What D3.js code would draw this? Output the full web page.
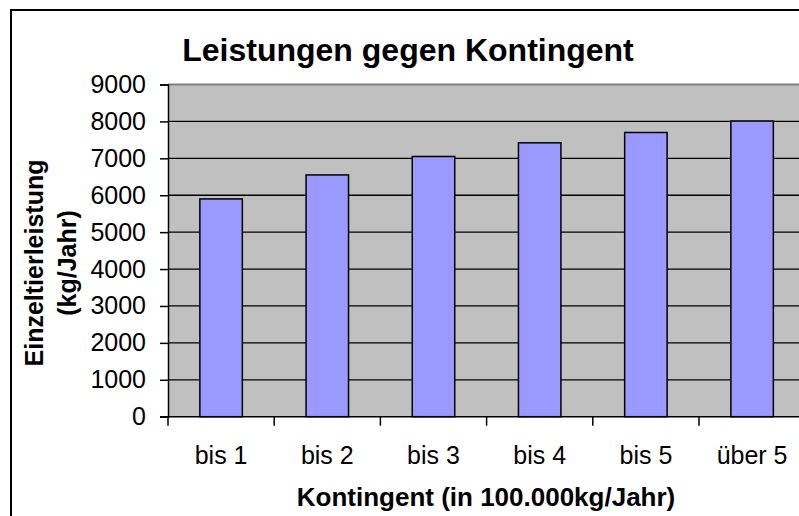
<!DOCTYPE html>
<html>
<head>
<meta charset="utf-8">
<script src="https://cdn.jsdelivr.net/npm/d3@7"></script>
<style>
  body { margin: 0; background: #fff; }
  svg { display: block; font-family: "Liberation Sans", Arial, sans-serif; }
</style>
</head>
<body>
<script>
// chart data
const categories = ["bis 1", "bis 2", "bis 3", "bis 4", "bis 5", "über 5"];
const leistung = [5900, 6550, 7050, 7420, 7700, 8010];
const yTicks = [0, 1000, 2000, 3000, 4000, 5000, 6000, 7000, 8000, 9000];

const W = 799, H = 516;
// plot area (runs off the right edge like the original)
const plot = { left: 168, top: 84.5, bottom: 416.7, right: 168 + 6 * 106.2 };

const svg = d3.select("body").append("svg")
    .attr("width", W)
    .attr("height", H);

// outer chart frame
svg.append("rect")
    .attr("x", 11).attr("y", 10)
    .attr("width", 840).attr("height", 540)
    .attr("fill", "#fff")
    .attr("stroke", "#000")
    .attr("stroke-width", 2);

// scales
const xSlot = d3.scaleBand()
    .domain(categories)
    .range([plot.left, plot.right])
    .padding(0);
const yScale = d3.scaleLinear()
    .domain([0, 9000])
    .range([plot.bottom, plot.top]);

const barW = xSlot.bandwidth() * 0.4;

// plot background
svg.append("rect")
    .attr("x", plot.left).attr("y", plot.top)
    .attr("width", plot.right - plot.left)
    .attr("height", plot.bottom - plot.top)
    .attr("fill", "#c0c0c0");

// gridlines
svg.append("g")
    .selectAll("line")
    .data(yTicks.filter(d => d > 0 && d < 9000))
    .join("line")
    .attr("x1", plot.left).attr("x2", plot.right)
    .attr("y1", d => yScale(d)).attr("y2", d => yScale(d))
    .attr("stroke", "#000")
    .attr("stroke-width", 1.3);

// plot area top border
svg.append("line")
    .attr("x1", plot.left).attr("x2", plot.right)
    .attr("y1", plot.top).attr("y2", plot.top)
    .attr("stroke", "#808080")
    .attr("stroke-width", 2);

// bars
svg.append("g")
    .selectAll("rect")
    .data(leistung)
    .join("rect")
    .attr("x", (d, i) => xSlot(categories[i]) + (xSlot.bandwidth() - barW) / 2)
    .attr("y", d => yScale(d))
    .attr("width", barW)
    .attr("height", d => yScale(0) - yScale(d))
    .attr("fill", "#9999ff")
    .attr("stroke", "#000")
    .attr("stroke-width", 1.5);

// y axis
const yAxis = d3.axisLeft(yScale)
    .tickValues(yTicks)
    .tickSize(8)
    .tickPadding(14)
    .tickFormat(d3.format("d"));
const yG = svg.append("g")
    .attr("transform", "translate(" + plot.left + ",0)")
    .call(yAxis);
yG.select(".domain").attr("stroke", "#000").attr("stroke-width", 1.5);
yG.selectAll(".tick line").attr("stroke", "#000").attr("stroke-width", 1.5);
yG.selectAll(".tick text")
    .attr("font-size", 25)
    .attr("font-family", "Liberation Sans, Arial, sans-serif")
    .attr("fill", "#000");

// x axis line and ticks at slot boundaries
svg.append("line")
    .attr("x1", plot.left - 8).attr("x2", plot.right)
    .attr("y1", plot.bottom).attr("y2", plot.bottom)
    .attr("stroke", "#000")
    .attr("stroke-width", 1.5);
const bounds = categories.map(c => xSlot(c)).concat([plot.right]);
svg.append("g")
    .selectAll("line")
    .data(bounds)
    .join("line")
    .attr("x1", d => d).attr("x2", d => d)
    .attr("y1", plot.bottom).attr("y2", plot.bottom + 9)
    .attr("stroke", "#000")
    .attr("stroke-width", 1.5);
svg.append("g")
    .selectAll("text")
    .data(categories)
    .join("text")
    .attr("x", d => xSlot(d) + xSlot.bandwidth() / 2)
    .attr("y", 464)
    .attr("text-anchor", "middle")
    .attr("font-size", 25)
    .text(d => d);

// title
svg.append("text")
    .attr("x", 408).attr("y", 61)
    .attr("text-anchor", "middle")
    .attr("font-size", 32)
    .attr("font-weight", "bold")
    .text("Leistungen gegen Kontingent");

// x title
svg.append("text")
    .attr("x", 486).attr("y", 506)
    .attr("text-anchor", "middle")
    .attr("font-size", 26)
    .attr("font-weight", "bold")
    .text("Kontingent (in 100.000kg/Jahr)");

// y title, two lines
const yTitle = svg.append("text")
    .attr("transform", "translate(43,263) rotate(-90)")
    .attr("text-anchor", "middle")
    .attr("font-size", 25)
    .attr("font-weight", "bold");
yTitle.append("tspan").attr("x", 0).attr("y", 0).text("Einzeltierleistung");
yTitle.append("tspan").attr("x", 0).attr("y", 33).text("(kg/Jahr)");
</script>
</body>
</html>
